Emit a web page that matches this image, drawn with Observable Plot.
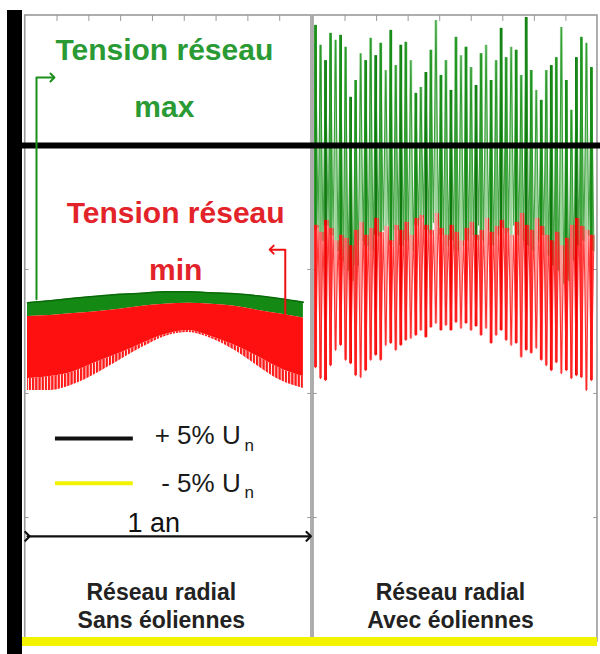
<!DOCTYPE html>
<html><head><meta charset="utf-8">
<script src="https://cdn.jsdelivr.net/npm/d3@7"></script>
<script src="https://cdn.jsdelivr.net/npm/@observablehq/plot@0.6"></script>
<style>
body{margin:0;background:#fff;}
#wrap{position:relative;width:600px;height:654px;overflow:hidden;}
#bar{position:absolute;left:7px;top:10px;width:15px;height:644px;background:#000;z-index:2;}
</style></head><body>
<svg width="0" height="0" style="position:absolute"><defs>
<pattern id="teeth" patternUnits="userSpaceOnUse" width="3.2" height="20"><rect x="0" y="0" width="2.3" height="20" fill="#ff1a1a"/></pattern>
</defs></svg>
<div id="wrap"><div id="bar"></div></div>
<script>
// ---- Data (voltage deviation in % of Un) ----
// Left panel: radial grid without wind turbines (sampled over one year, days)
const days = [0, 30, 61, 91, 122, 152, 182, 213, 243, 274, 304, 335, 365];
const sansMaxTop   = [1.83, 1.87, 1.92, 1.96, 2.00, 2.02, 2.05, 2.05, 2.03, 2.01, 1.97, 1.91, 1.84];
const sansMinTop   = [1.55, 1.57, 1.61, 1.65, 1.70, 1.76, 1.80, 1.82, 1.80, 1.76, 1.68, 1.60, 1.52];
const sansMinInner = [0.30, 0.34, 0.44, 0.63, 0.81, 1.01, 1.19, 1.27, 1.15, 0.97, 0.75, 0.50, 0.34];
const sansMinLow   = [0.06, 0.06, 0.18, 0.40, 0.67, 0.93, 1.15, 1.23, 1.11, 0.87, 0.56, 0.26, 0.10];
// Right panel: radial grid with wind turbines (spikes over one year)
const avecMaxHigh = [7.42,7.02,6.71,7.26,7.12,7.22,6.98,5.97,6.31,6.85,6.71,7.16,6.81,7.06,6.51,7.32,6.61,7.02,7.08,6.71,6.05,6.17,6.47,6.92,7.52,6.41,6.71,6.11,7.18,6.81,6.98,6.57,6.21,6.85,7.02,6.31,6.71,7.36,6.77,6.98,6.92,6.41,7.58,6.51,6.11,5.91,6.51,6.61,6.77,7.38,6.31,5.71,6.77,7.18,7.06,6.57];
const avecMaxLow  = [3.35,3.08,3.39,3.19,2.88,2.68,2.48,2.28,2.58,3.08,2.98,2.88,3.19,3.29,3.39,3.08,3.29,2.98,3.08,2.88,3.39,3.55,3.29,3.45,3.39,3.19,2.98,3.08,2.88,2.98,3.08,3.19,3.39,3.08,3.29,2.98,3.19,3.33,3.29,3.39,3.19,3.08,2.98,2.88,3.08,3.19,2.78,2.58,2.48,2.22,2.28,2.68,2.98,3.08,3.19,2.88];
const avecMinHigh = [3.39,3.25,3.49,3.33,3.08,3.19,3.13,2.98,3.29,3.45,3.19,3.33,3.53,3.25,3.37,3.08,3.39,3.29,3.45,3.19,3.53,3.59,3.39,3.29,3.63,3.33,3.19,3.39,3.25,3.08,3.33,3.45,3.19,3.29,3.53,3.25,3.37,3.49,3.33,3.19,3.45,3.63,3.39,3.29,3.53,3.37,3.19,3.08,3.25,2.98,3.13,3.39,3.53,3.37,3.29,3.19];
const avecMinLow  = [0.52,0.30,0.26,0.56,0.87,0.97,0.67,0.60,0.36,0.32,0.46,0.67,0.77,0.67,0.97,1.01,0.87,0.97,1.07,1.11,1.17,1.27,1.13,1.33,1.41,1.27,1.37,1.27,1.43,1.31,1.41,1.27,1.35,1.17,1.31,1.01,1.17,1.27,1.07,0.97,1.01,0.73,0.87,0.81,0.91,0.67,0.56,0.46,0.62,0.40,0.46,0.30,0.36,0.32,0.06,0.26];
// Limits and labels
const limits = [5, -5];
const limitLabels = ["+ 5% U", "- 5% U"];
const gridLevels = [2.5, 0, -2.5];
const panelLabels = ["Réseau radial\nSans éoliennes", "Réseau radial\nAvec éoliennes"];
const maxLabel = ["Tension réseau", "max"];
const minLabel = ["Tension réseau", "min"];
const yearLabel = "1 an";

// ---- Layout helpers ----
const OFF = 381; // x offset (days) of right panel
const panels = [{x1: -3, x2: 375.7}, {x1: 378.3, x2: 754}];
const topTicks = panels.flatMap(p => d3.range(1, 9).map(k => p.x1 + k * (p.x2 - p.x1) / 9));
const sideTicks = panels.flatMap(p => gridLevels.flatMap(y => [{y, a: p.x1, b: p.x1 + 5}, {y, a: p.x2 - 5, b: p.x2}]));

const sans = days.map((d, i) => ({day: d, maxTop: sansMaxTop[i], minTop: sansMinTop[i], inner: sansMinInner[i], low: sansMinLow[i]}));
const n = avecMaxHigh.length;
const step = 365 / (n - 1);
const avec = avecMaxHigh.map((v, i) => ({day: OFF + i * step, maxHigh: v, maxLow: avecMaxLow[i], minHigh: avecMinHigh[i], minLow: avecMinLow[i], i}));
// zig-zag traces: each peak followed by its trough half a step later
const greenTrace = avec.flatMap(d => [{day: d.day, v: d.maxHigh}, {day: d.day + step / 2, v: d.maxLow}]);
const redTrace = avec.flatMap(d => [{day: d.day, v: d.minLow}, {day: d.day + step / 2, v: d.minHigh}]);
const greens = ["#178d17", "#6cc06c", "#0e7a0e", "#3aa63a", "#9ad69a"];
const reds = ["#ff1414", "#ff6060", "#f00000", "#ff3030", "#ff9a9a"];

const FONT = "'Liberation Sans', Arial, Helvetica, sans-serif";
const GREEN_TXT = "#2a9a34";
const RED_TXT = "#e3232a";

const chart = Plot.plot({
  width: 600, height: 654,
  marginTop: 15, marginBottom: 13, marginLeft: 22, marginRight: 0,
  x: {domain: [-6.6, 758], axis: null},
  y: {domain: [-5, 7.62], axis: null},
  color: {type: "identity"},
  style: {background: "white", fontFamily: FONT},
  marks: [
    Plot.rect(panels, {x1: "x1", x2: "x2", y1: -5, y2: 7.62, fill: "white", stroke: "#9a9a9a", strokeWidth: 1.6}),
    Plot.ruleX(topTicks, {x: d => d, y1: 7.62, y2: 7.5, stroke: "#9a9a9a", strokeWidth: 1}),
    Plot.ruleY(sideTicks, {y: "y", x1: "a", x2: "b", stroke: "#9a9a9a", strokeWidth: 1}),
    // Left panel bands
    Plot.areaY(sans, {x: "day", y1: "minTop", y2: "maxTop", fill: "#148a14", curve: "monotone-x"}),
    Plot.lineY(sans, {x: "day", y: "maxTop", stroke: "#0a6a0a", strokeWidth: 1.5, curve: "monotone-x"}),
    Plot.areaY(sans, {x: "day", y1: "inner", y2: "minTop", fill: "#ff1010", curve: "monotone-x"}),
    Plot.areaY(sans, {x: "day", y1: "low", y2: "inner", fill: "url(#teeth)", curve: "monotone-x"}),
    // Right panel spikes
    Plot.ruleX(avec, {x: "day", y1: d => Math.min(d.maxLow, d.minHigh - 0.1), y2: "maxHigh", stroke: d => greens[d.i % 5], strokeWidth: 2.8}),
    Plot.lineY(greenTrace, {x: "day", y: "v", stroke: "#1a8f1a", strokeWidth: 1.1, strokeOpacity: 0.8}),
    Plot.ruleX(avec, {x: "day", y1: "minLow", y2: "minHigh", stroke: d => reds[d.i % 5], strokeWidth: 2.8}),
    Plot.lineY(redTrace, {x: "day", y: "v", stroke: "#ff1a1a", strokeWidth: 1.1, strokeOpacity: 0.85}),
    // Limits
    Plot.ruleY([limits[0]], {stroke: "black", strokeWidth: 6}),
    Plot.ruleY([limits[1]], {x1: -6.6, x2: 754, stroke: "#f3f300", strokeWidth: 9}),
    // Annotations
    Plot.text(maxLabel, {x: 181, y: (d, i) => [6.92, 5.77][i], text: d => d, fill: GREEN_TXT, fontSize: 30, fontWeight: "bold"}),
    Plot.text(minLabel, {x: 196, y: (d, i) => [3.63, 2.48][i], text: d => d, fill: RED_TXT, fontSize: 30, fontWeight: "bold"}),
    Plot.line([[11.9, 1.9], [11.9, 6.37], [33, 6.37]], {stroke: "#1c8f1c", strokeWidth: 2, markerEnd: "arrow"}),
    Plot.line([[341, 1.5], [341, 2.9], [323, 2.9]], {stroke: "#ee1111", strokeWidth: 2, markerEnd: "arrow"}),
    // Legend
    Plot.ruleY([-0.91], {x1: 37, x2: 140, stroke: "#111", strokeWidth: 4}),
    Plot.ruleY([-1.81], {x1: 37, x2: 140, stroke: "#f3f300", strokeWidth: 4}),
    Plot.text(limitLabels, {x: 282, y: (d, i) => [-0.85, -1.81][i], text: d => d, textAnchor: "end", fill: "#1a1a1a", fontSize: 26}),
    Plot.text(["n", "n"], {x: 287, y: (d, i) => [-1.05, -2.0][i], text: d => d, textAnchor: "start", fill: "#1a1a1a", fontSize: 17}),
    Plot.text([yearLabel], {x: 167, y: -2.62, text: d => d, fill: "#111", fontSize: 27}),
    Plot.line([[0, -2.88], [372, -2.88]], {stroke: "#111", strokeWidth: 2.2, markerStart: "arrow", markerEnd: "arrow"}),
    Plot.text(panelLabels, {x: (d, i) => [177, 559.5][i], y: -4.26, text: d => d, fill: "#222", fontSize: 23, fontWeight: "bold", lineHeight: 1.22, lineAnchor: "middle"})
  ]
});
document.getElementById("wrap").appendChild(chart);
</script>
</body></html>
